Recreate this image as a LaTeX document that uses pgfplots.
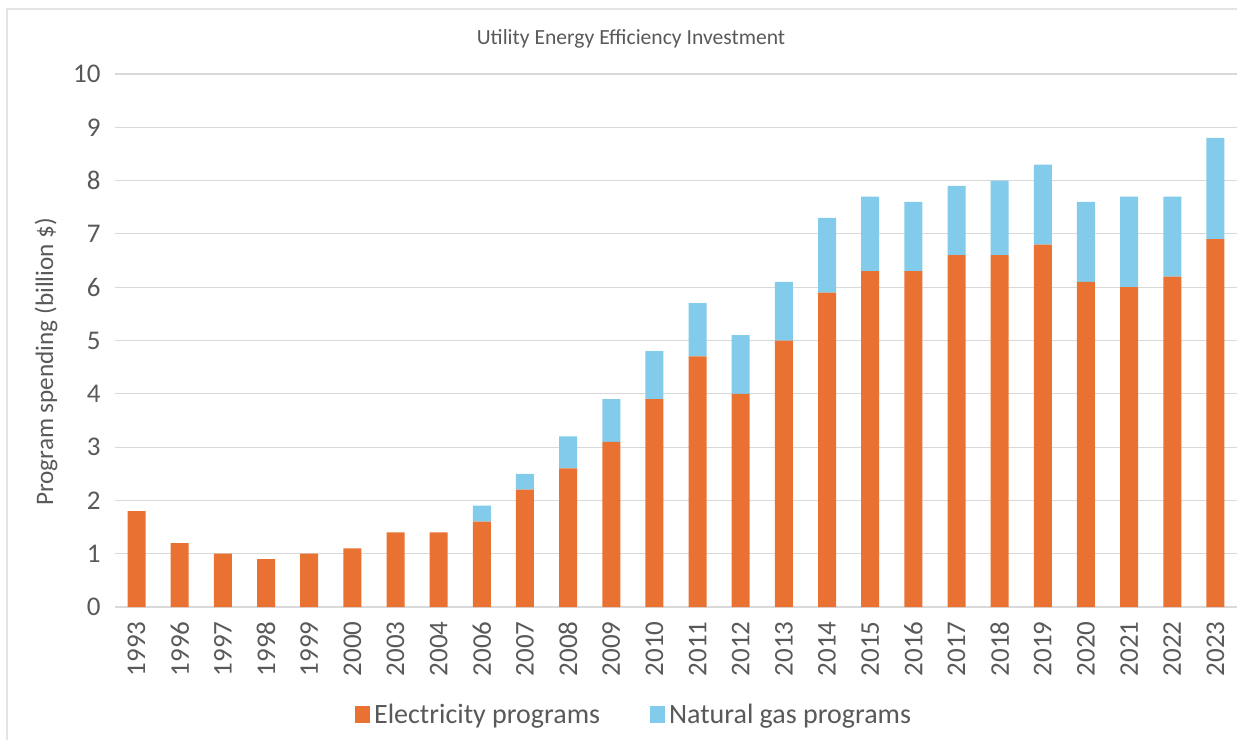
\documentclass[border=0pt]{standalone}
\usepackage{pgfplots}
\pgfplotsset{compat=1.18}
\usepackage{pgfplotstable}
\usepackage{fontspec}
\setmainfont{Carlito}
\definecolor{elec}{HTML}{E97132}
\definecolor{gas}{HTML}{83CBEB}
\definecolor{gridc}{HTML}{D9D9D9}
\definecolor{framec}{HTML}{E4E4E4}
\definecolor{txt}{HTML}{595959}
\pgfplotstableread{
idx year elec gas
0 1993 1.8 0
1 1996 1.2 0
2 1997 1.0 0
3 1998 0.9 0
4 1999 1.0 0
5 2000 1.1 0
6 2003 1.4 0
7 2004 1.4 0
8 2006 1.6 0.3
9 2007 2.2 0.3
10 2008 2.6 0.6
11 2009 3.1 0.8
12 2010 3.9 0.9
13 2011 4.7 1.0
14 2012 4.0 1.1
15 2013 5.0 1.1
16 2014 5.9 1.4
17 2015 6.3 1.4
18 2016 6.3 1.3
19 2017 6.6 1.3
20 2018 6.6 1.4
21 2019 6.8 1.5
22 2020 6.1 1.5
23 2021 6.0 1.7
24 2022 6.2 1.5
25 2023 6.9 1.9
}\datatable
\begin{document}
\begin{tikzpicture}
\useasboundingbox (0,0) rectangle (624pt,370pt);
\draw[framec, line width=0.7pt] (3.5pt,0pt) -- (3.5pt,365.5pt) -- (618.5pt,365.5pt);
\node[text=txt, font=\fontsize{10.8}{12}\selectfont] at (315.5pt,350.5pt) {Utility Energy Efficiency Investment};
\begin{axis}[
  at={(57.5pt,66.5pt)}, anchor=south west,
  scale only axis, width=561pt, height=266.5pt,
  ybar stacked, bar width=9pt,
  xmin=-0.5, xmax=25.5, ymin=0, ymax=10,
  ytick={0,1,...,10},
  xtick=data,
  xticklabels from table={\datatable}{year},
  x tick label style={rotate=90, anchor=east, inner xsep=7pt, font=\fontsize{13.5}{15}\selectfont, text=txt},
  y tick label style={inner xsep=7pt, font=\fontsize{13.5}{15}\selectfont, text=txt},
  /pgf/number format/assume math mode=true,
  ymajorgrids, grid style={gridc, line width=0.6pt},
  axis y line*=left, axis x line*=bottom,
  y axis line style={draw=none},
  x axis line style={gridc, line width=0.6pt},
  major tick length=0pt,
  ylabel={Program spending (billion \$)},
  ylabel style={at={(axis description cs:-0.0615,0.46)}, anchor=center, font=\fontsize{12.6}{14}\selectfont, text=txt},
  legend style={at={(axis description cs:0.4635,-0.203)}, anchor=center, draw=none, legend columns=2,
    font=\fontsize{14}{16}\selectfont, text=txt, inner sep=0pt,
    /tikz/every odd column/.append style={column sep=0pt},
    /tikz/every even column/.append style={column sep=23pt}},
  legend image code/.code={\fill[#1] (0pt,-4pt) rectangle (7.5pt,4.5pt);},
]
\addplot[fill=elec, draw=none] table[x=idx, y=elec] {\datatable};
\addplot[fill=gas, draw=none] table[x=idx, y=gas] {\datatable};
\legend{Electricity programs, Natural gas programs}
\end{axis}
\end{tikzpicture}
\end{document}
